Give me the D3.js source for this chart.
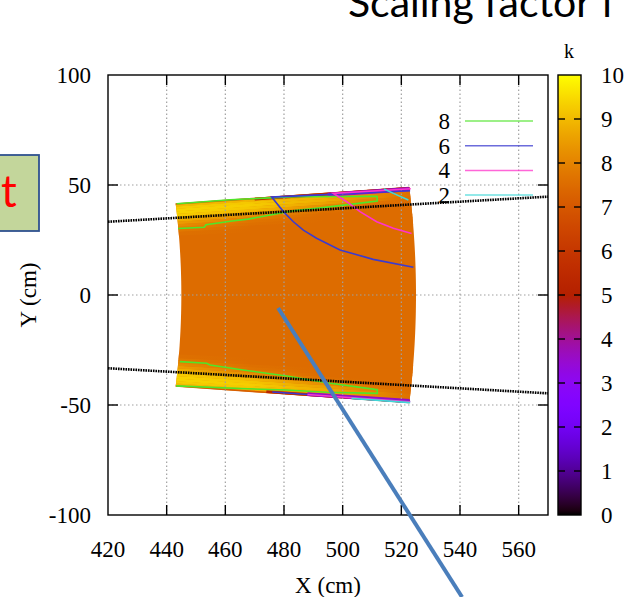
<!DOCTYPE html>
<html>
<head>
<meta charset="utf-8">
<script src="https://cdn.jsdelivr.net/npm/d3@7"></script>
<style>
  body { margin: 0; background: #fff; }
  svg { display: block; }
</style>
</head>
<body>
<div id="chart"></div>
<script>
// axes
const xTicks = [420, 440, 460, 480, 500, 520, 540, 560];
const yTicks = [-100, -50, 0, 50, 100];
const kTicks = [0, 1, 2, 3, 4, 5, 6, 7, 8, 9, 10];

// the map is an annular sector (radius in cm, angle in degrees)
const sectorR = [445, 525];
const sectorPhi = [-5.37, 5.37];
const baseK = 7.5;

// bright band along the long edges: strip limits in |phi| and k of each strip at a few radii
const bandPhi = [5.37, 5.28, 5.18, 5.05, 4.9, 4.75, 4.6, 4.45, 4.3, 4.15, 4.0, 3.85, 3.7, 3.5];
const bandR = [445, 470, 495, 512, 525];
const bandK445 = [7.2, 9.0, 9.3, 9.4, 9.4, 9.3, 9.1, 8.8, 8.5, 8.2, 8.0, 7.8, 7.6];
const bandK470 = [7.2, 8.9, 9.2, 9.3, 9.2, 9.0, 8.6, 8.2, 7.9, 7.7, 7.6, 7.5, 7.5];
const bandK495 = [6.8, 8.4, 8.8, 8.8, 8.6, 8.2, 7.8, 7.6, 7.5, 7.5, 7.5, 7.5, 7.5];
const bandK512 = [6.4, 7.8, 8.2, 8.2, 8.0, 7.7, 7.5, 7.5, 7.5, 7.5, 7.5, 7.5, 7.5];
const bandK525 = [6.0, 7.3, 7.6, 7.6, 7.5, 7.5, 7.5, 7.5, 7.5, 7.5, 7.5, 7.5, 7.5];

// low-k strips on the edges near the outer radius
const stripR0 = [472, 497, 476, 490];
const stripPhi0 = [5.22, 5.15, -5.22, -5.17];
const stripPhi1 = [5.37, 5.37, -5.37, -5.37];
const stripK = [5.3, 3.6, 5.3, 3.6];

// contour lines (x, y in cm)
const c8Top = [[443.9, 30.2], [452.8, 30.8], [453.4, 31.9], [462.3, 33.6], [467.7, 34.5], [473.5, 35.9],
  [478.0, 37.1], [483.8, 38.4], [493.3, 39.7], [502.5, 41.2], [511.8, 42.7], [511.7, 44.9],
  [499.1, 44.8], [483.8, 44.7], [461.6, 43.3], [443.4, 41.5]];
const c8Bottom = [[444.5, -30.3], [453.6, -31.0], [454.8, -31.8], [466.1, -34.1], [480.9, -36.8],
  [494.6, -39.9], [511.0, -42.9], [511.8, -43.0], [511.8, -44.7], [494.6, -44.2], [480.9, -43.2],
  [465.0, -42.5], [443.2, -41.3]];
const c6Top = [[523.0, 47.4], [475.8, 44.5], [479.8, 37.9], [483.2, 33.3], [486.6, 29.5], [491.1, 25.8],
  [499.1, 20.5], [510.4, 16.2], [524.1, 12.6]];
const c4Top = [[523.2, 48.3], [496.8, 46.2], [501.4, 42.4], [505.9, 37.9], [511.6, 33.3], [517.3, 30.3], [523.5, 28.0]];
const c2Top = [[514.1, 48.2], [517.3, 46.2], [522.4, 43.2]];
const c6Bottom = [[476, -44.1], [523, -48.4]];
const c4Bottom = [[488, -45.2], [523, -48.6]];
const c2Bottom = [[503, -47.0], [523, -48.9]];

// black boundary lines
const boundaryX = [420, 570];
const boundaryTop = [33.3, 44.7];
const boundaryBottom = [-33.3, -44.7];

// key
const keyLevels = ["8", "6", "4", "2"];
const levelColor = { "8": "#4fe62a", "6": "#3b3bd0", "4": "#ff33cc", "2": "#3fd8d8" };

// slide annotation arrow (cm)
const arrowX = [478.0, 540.7];
const arrowY = [-5.9, -137.3];

const W = 629, H = 597;
const svg = d3.select("#chart").append("svg").attr("width", W).attr("height", H);
const defs = svg.append("defs");

const x = d3.scaleLinear().domain([420, 570]).range([108, 548]);
const y = d3.scaleLinear().domain([-100, 100]).range([515, 75]);
const kScale = d3.scaleLinear().domain([0, 10]).range([515, 75]);

// gnuplot default palette (rgbformulae 7,5,15)
function palette(k) {
  const t = Math.max(0, Math.min(1, k / 10));
  return d3.rgb(255 * Math.sqrt(t), 255 * t * t * t, 255 * Math.max(0, Math.sin(2 * Math.PI * t))).formatHex();
}

const rad = Math.PI / 180;
function pt(r, phi) { return [x(r * Math.cos(phi * rad)), y(r * Math.sin(phi * rad))]; }
function sector(r0, r1, p0, p1) {
  const n = 40, pts = [];
  for (let i = 0; i <= n; i++) pts.push(pt(r1, p0 + (p1 - p0) * i / n));
  for (let i = n; i >= 0; i--) pts.push(pt(r0, p0 + (p1 - p0) * i / n));
  return "M" + pts.map(p => p.join(",")).join("L") + "Z";
}

const fieldG = svg.append("g");

// base surface
fieldG.append("path")
  .attr("d", sector(sectorR[0], sectorR[1], sectorPhi[0], sectorPhi[1]))
  .attr("fill", palette(baseK));

// bands, top and bottom
const bandCols = [bandK445, bandK470, bandK495, bandK512, bandK525];
[1, -1].forEach((sgn, si) => {
  d3.range(bandPhi.length - 1).forEach(i => {
    const id = `band${si}_${i}`;
    const phiMid = (bandPhi[i] + bandPhi[i + 1]) / 2;
    const g = defs.append("linearGradient").attr("id", id)
      .attr("gradientUnits", "userSpaceOnUse")
      .attr("x1", pt(sectorR[0], phiMid)[0]).attr("x2", pt(sectorR[1], phiMid)[0])
      .attr("y1", 0).attr("y2", 0);
    bandR.forEach((r, j) => {
      g.append("stop")
        .attr("offset", (r - sectorR[0]) / (sectorR[1] - sectorR[0]))
        .attr("stop-color", palette(bandCols[j][i]));
    });
    const a = sgn * bandPhi[i], b = sgn * bandPhi[i + 1];
    fieldG.append("path")
      .attr("d", sector(sectorR[0], sectorR[1], Math.min(a, b) - 0.01, Math.max(a, b) + 0.01))
      .attr("fill", `url(#${id})`);
  });
});

// low-k edge strips
stripK.forEach((k, i) => {
  fieldG.append("path")
    .attr("d", sector(stripR0[i], sectorR[1], Math.min(stripPhi0[i], stripPhi1[i]), Math.max(stripPhi0[i], stripPhi1[i])))
    .attr("fill", palette(k));
});

// grid (drawn over the map, as gnuplot does)
const grid = svg.append("g").attr("stroke", "#a0a0a0").attr("stroke-width", 1.2)
  .attr("stroke-dasharray", "1.5,2.5");
xTicks.slice(1).forEach(t => grid.append("line").attr("x1", x(t)).attr("x2", x(t)).attr("y1", y(-100)).attr("y2", y(100)));
yTicks.slice(1, -1).forEach(t => grid.append("line").attr("x1", x(420)).attr("x2", x(570)).attr("y1", y(t)).attr("y2", y(t)));

// contours
const line = d3.line().x(d => x(d[0])).y(d => y(d[1]));
const contours = [
  [c8Top, "8"], [c8Bottom, "8"], [c6Top, "6"], [c6Bottom, "6"],
  [c4Top, "4"], [c4Bottom, "4"], [c2Top, "2"], [c2Bottom, "2"]
];
contours.forEach(([pts, lev]) => {
  svg.append("path").attr("d", line(pts)).attr("fill", "none")
    .attr("stroke", levelColor[lev]).attr("stroke-width", 1.6);
});

const serif = "Liberation Serif, Times New Roman, serif";
const fs = 23;

// key
const key = svg.append("g").attr("font-family", serif).attr("font-size", fs);
keyLevels.forEach((lev, i) => {
  const ky = 121 + i * 24.7;
  key.append("text").attr("x", 450).attr("y", ky + 8).attr("text-anchor", "end").text(lev);
  key.append("line").attr("x1", 465).attr("x2", 533).attr("y1", ky).attr("y2", ky)
    .attr("stroke", levelColor[lev]).attr("stroke-width", 1.5).attr("opacity", 0.75);
});

// black boundary lines
[boundaryTop, boundaryBottom].forEach(ys => {
  svg.append("path").attr("d", line(boundaryX.map((v, i) => [v, ys[i]])))
    .attr("fill", "none").attr("stroke", "#000").attr("stroke-width", 2.6)
    .attr("stroke-dasharray", "1.6,0.9");
});

// frame and ticks
const axisG = svg.append("g").attr("stroke", "#000").attr("stroke-width", 1.4);
axisG.append("rect").attr("x", x(420)).attr("y", y(100)).attr("width", x(570) - x(420))
  .attr("height", y(-100) - y(100)).attr("fill", "none");
const tl = 10;
xTicks.slice(1).forEach(t => {
  axisG.append("line").attr("x1", x(t)).attr("x2", x(t)).attr("y1", y(-100)).attr("y2", y(-100) - tl);
  axisG.append("line").attr("x1", x(t)).attr("x2", x(t)).attr("y1", y(100)).attr("y2", y(100) + tl);
});
yTicks.slice(1, -1).forEach(t => {
  axisG.append("line").attr("x1", x(420)).attr("x2", x(420) + tl).attr("y1", y(t)).attr("y2", y(t));
  axisG.append("line").attr("x1", x(570)).attr("x2", x(570) - tl).attr("y1", y(t)).attr("y2", y(t));
});

const labels = svg.append("g").attr("font-family", serif).attr("font-size", fs).attr("fill", "#000");
xTicks.forEach(t => labels.append("text").attr("x", x(t)).attr("y", 557).attr("text-anchor", "middle").text(t));
yTicks.forEach(t => labels.append("text").attr("x", 91).attr("y", y(t) + 8).attr("text-anchor", "end").text(t));
labels.append("text").attr("x", 328).attr("y", 593).attr("text-anchor", "middle").text("X (cm)");
labels.append("text").attr("transform", `translate(36,${y(0)}) rotate(-90)`).attr("text-anchor", "middle").text("Y (cm)");

// colour box
const cbx0 = 558, cbx1 = 581;
const cbGrad = defs.append("linearGradient").attr("id", "cb")
  .attr("x1", 0).attr("x2", 0).attr("y1", 1).attr("y2", 0);
d3.range(0, 10.001, 0.1).forEach(k => cbGrad.append("stop").attr("offset", k / 10).attr("stop-color", palette(k)));
svg.append("rect").attr("x", cbx0).attr("y", kScale(10)).attr("width", cbx1 - cbx0)
  .attr("height", kScale(0) - kScale(10)).attr("fill", "url(#cb)")
  .attr("stroke", "#000").attr("stroke-width", 1.4);
const cbTicks = svg.append("g").attr("stroke", "#000").attr("stroke-width", 1.4);
kTicks.slice(1, -1).forEach(k => {
  cbTicks.append("line").attr("x1", cbx0).attr("x2", cbx0 + 7).attr("y1", kScale(k)).attr("y2", kScale(k));
  cbTicks.append("line").attr("x1", cbx1).attr("x2", cbx1 - 7).attr("y1", kScale(k)).attr("y2", kScale(k));
});
kTicks.forEach(k => labels.append("text").attr("x", 601).attr("y", kScale(k) + 8).text(k));
labels.append("text").attr("x", 569).attr("y", 58).attr("text-anchor", "middle").attr("font-size", 20).text("k");

// slide overlays
svg.append("line")
  .attr("x1", x(arrowX[0])).attr("y1", y(arrowY[0]))
  .attr("x2", x(arrowX[1])).attr("y2", y(arrowY[1]))
  .attr("stroke", "#4a7ebb").attr("stroke-width", 4);

svg.append("text").attr("x", 348).attr("y", 17).attr("font-family", "Lato, sans-serif")
  .attr("font-size", 41).attr("fill", "#000").text("Scaling factor f");

svg.append("rect").attr("x", -5).attr("y", 155).attr("width", 44).attr("height", 76)
  .attr("fill", "#c3d69b").attr("stroke", "#2f528f").attr("stroke-width", 1.8);
svg.append("text").attr("x", 1).attr("y", 207).attr("font-family", "Lato, sans-serif")
  .attr("font-size", 44).attr("fill", "#ff0000").text("t");
</script>
</body>
</html>
